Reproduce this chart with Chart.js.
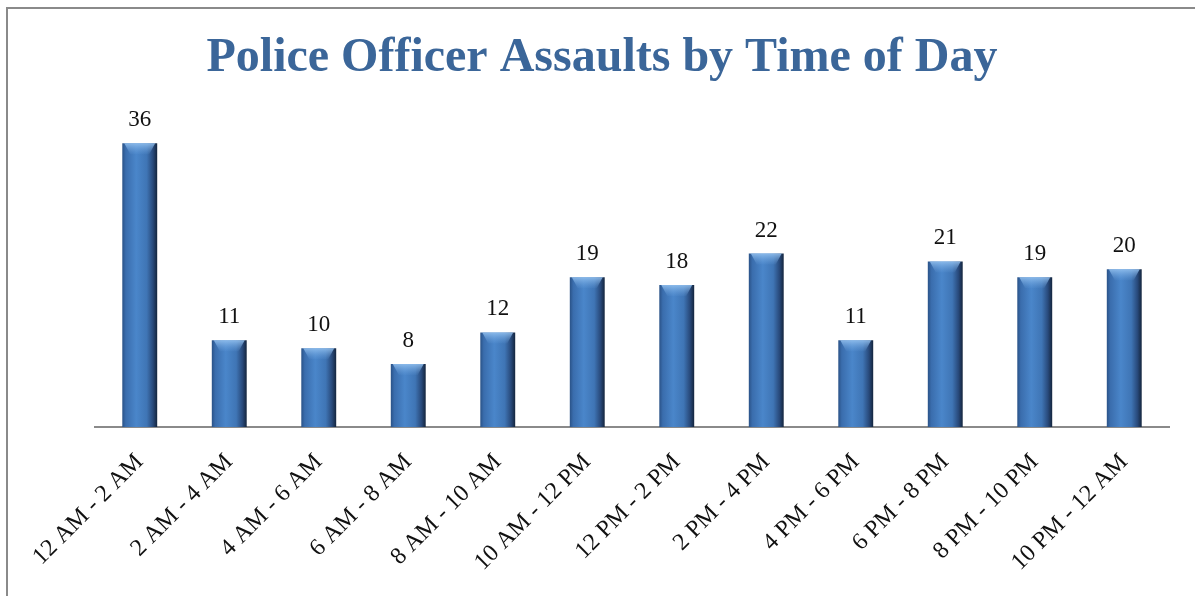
<!DOCTYPE html>
<html>
<head>
<meta charset="utf-8">
<script src="https://cdn.jsdelivr.net/npm/chart.js@4.4.1/dist/chart.umd.min.js"></script>
<style>
    html, body { margin: 0; padding: 0; background: #fff; }
    #wrap { position: relative; width: 1195px; height: 596px; overflow: hidden; }
    #marco { position: absolute; left: 6px; top: 7px; width: 1300px; height: 700px;
             border-top: 2px solid #8a8a8a; border-left: 2px solid #8a8a8a; }
    canvas { position: absolute; left: 0; top: 0; }
</style>
</head>
<body>
<div id="wrap">
    <div id="marco"></div>
    <canvas id="chartAsaltos" width="1195" height="596"></canvas>
</div>
<script>
const tituloGrafica = 'Police Officer Assaults by Time of Day';
const franjas = [
    '12 AM - 2 AM', '2 AM - 4 AM', '4 AM - 6 AM', '6 AM - 8 AM',
    '8 AM - 10 AM', '10 AM - 12 PM', '12 PM - 2 PM', '2 PM - 4 PM',
    '4 PM - 6 PM', '6 PM - 8 PM', '8 PM - 10 PM', '10 PM - 12 AM'
];
const asaltos = [36, 11, 10, 8, 12, 19, 18, 22, 11, 21, 19, 20];
const limiteY = 40;

const fuente = "'Liberation Serif', 'Times New Roman', serif";
const anchoRel = 0.39;

// degradado horizontal tipo cilindro para cada barra
function rellenoBarra(ctx) {
    const chart = ctx.chart;
    const escalaX = chart.scales && chart.scales.x;
    if (ctx.type !== 'data' || !escalaX || !escalaX.width) return '#3F78BC';
    const cx = escalaX.getPixelForValue(ctx.dataIndex);
    const ancho = (escalaX.width / franjas.length) * anchoRel;
    const g = chart.ctx.createLinearGradient(cx - ancho / 2, 0, cx + ancho / 2, 0);
    g.addColorStop(0, '#2A5287');
    g.addColorStop(0.1, '#3A6DAD');
    g.addColorStop(0.4, '#4A86CA');
    g.addColorStop(0.7, '#3F75B5');
    g.addColorStop(0.88, '#28497A');
    g.addColorStop(1, '#14253D');
    return g;
}

// brillo en la tapa y etiquetas con el valor
const pluginBarras = {
    id: 'pluginBarras',
    afterDatasetsDraw(chart) {
        const ctx = chart.ctx;
        const meta = chart.getDatasetMeta(0);
        ctx.save();
        meta.data.forEach((bar, i) => {
            const w = bar.width;
            const izq = bar.x - w / 2;
            const der = bar.x + w / 2;
            const brillo = ctx.createLinearGradient(0, bar.y, 0, bar.y + 12);
            brillo.addColorStop(0, 'rgba(150,195,240,0.85)');
            brillo.addColorStop(1, 'rgba(110,165,225,0)');
            ctx.fillStyle = brillo;
            ctx.beginPath();
            ctx.moveTo(izq + 2, bar.y);
            ctx.lineTo(der - 2, bar.y);
            ctx.lineTo(der - 8, bar.y + 11);
            ctx.lineTo(izq + 8, bar.y + 11);
            ctx.closePath();
            ctx.fill();

            ctx.fillStyle = '#111';
            ctx.font = '23px ' + fuente;
            ctx.textAlign = 'center';
            ctx.textBaseline = 'alphabetic';
            ctx.fillText(asaltos[i], bar.x, bar.y - 17);
        });
        ctx.restore();
    }
};

new Chart(document.getElementById('chartAsaltos').getContext('2d'), {
    type: 'bar',
    data: {
        labels: franjas,
        datasets: [{
            label: 'Asaltos',
            data: asaltos,
            backgroundColor: rellenoBarra,
            borderWidth: 0,
            barPercentage: anchoRel,
            categoryPercentage: 1
        }]
    },
    options: {
        responsive: false,
        animation: false,
        devicePixelRatio: 1,
        layout: { padding: { left: 35, right: 26, top: 0, bottom: 0 } },
        plugins: {
            legend: { display: false },
            tooltip: { enabled: false },
            title: {
                display: true,
                text: tituloGrafica,
                color: '#3B6699',
                font: { family: fuente, size: 48, weight: 'bold' },
                padding: { top: 30, bottom: 24 }
            }
        },
        scales: {
            x: {
                grid: { display: false },
                border: { display: true, color: '#8a8a8a', width: 2 },
                ticks: {
                    color: '#111',
                    font: { family: fuente, size: 24 },
                    maxRotation: 45,
                    minRotation: 45,
                    autoSkip: false,
                    padding: 13
                },
                afterFit(escala) { escala.height = 169; }
            },
            y: {
                display: true,
                min: 0,
                max: limiteY,
                grid: { display: false },
                border: { display: false },
                ticks: { display: false },
                afterFit(escala) { escala.width = 60; }
            }
        }
    },
    plugins: [pluginBarras]
});
</script>
</body>
</html>
